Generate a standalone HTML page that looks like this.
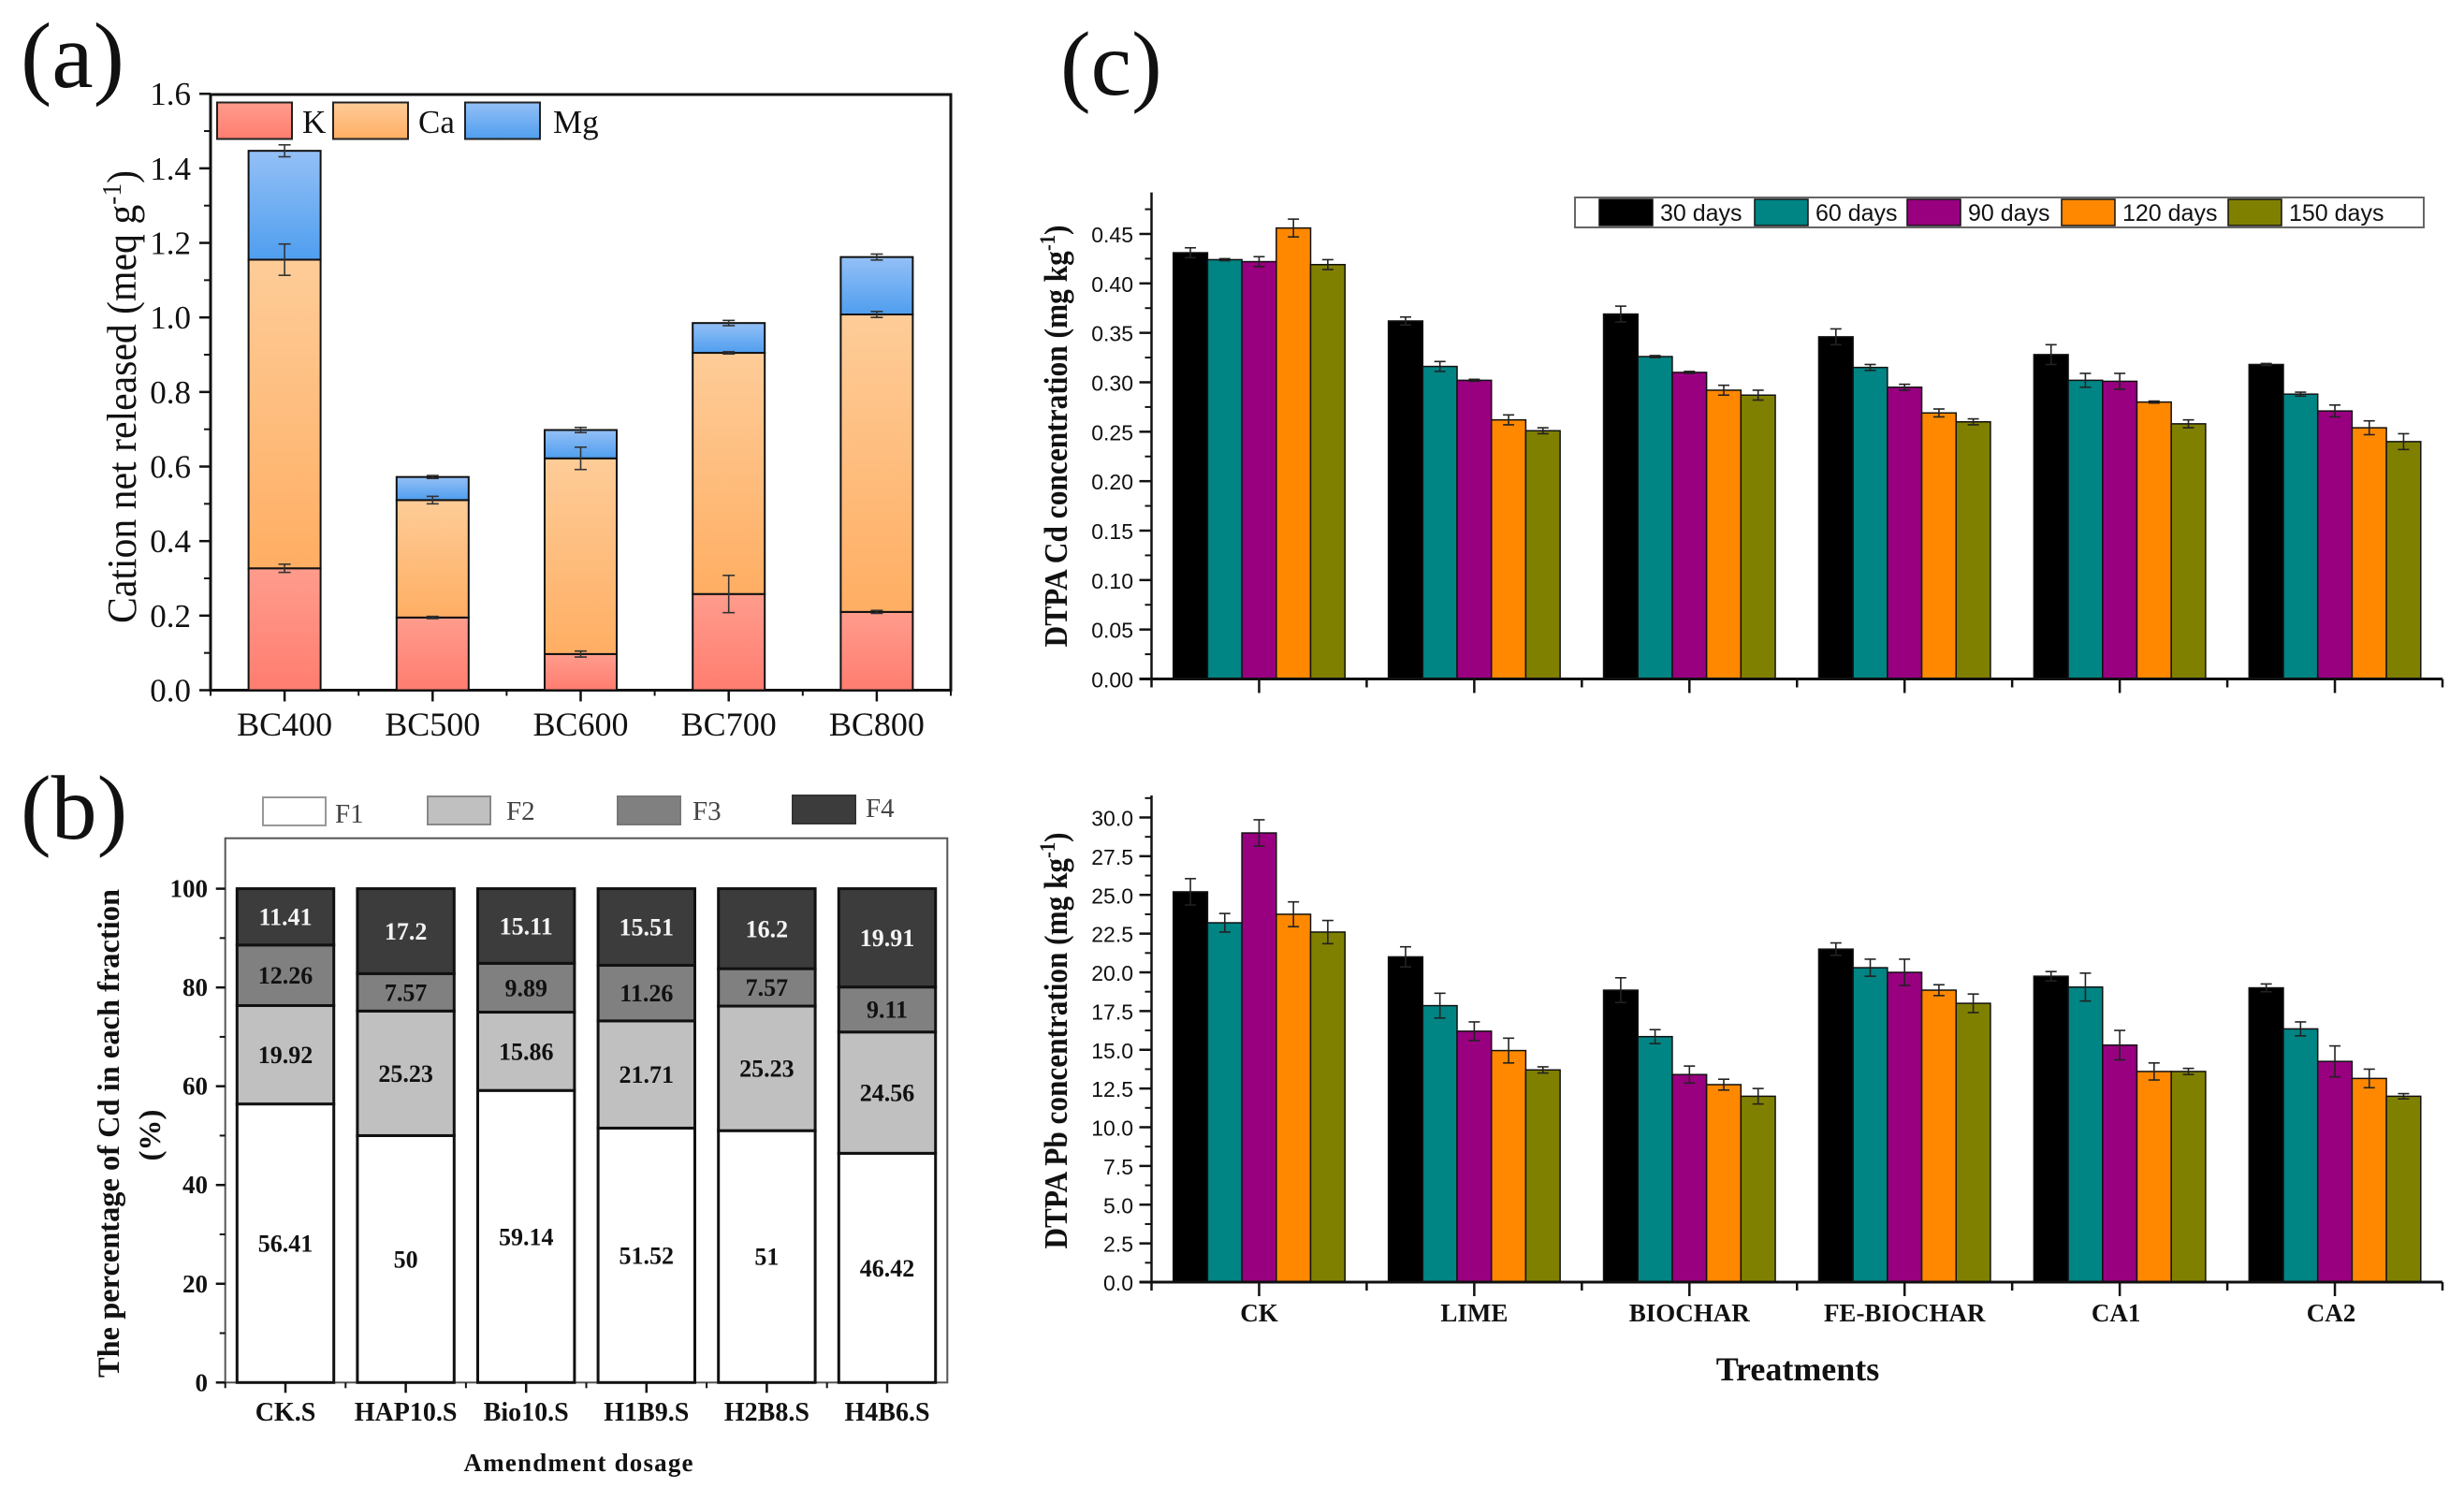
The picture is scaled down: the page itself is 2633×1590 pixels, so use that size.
<!DOCTYPE html>
<html lang="en">
<head>
<meta charset="utf-8">
<title>Composite bar charts (a), (b), (c)</title>
<style>
html,body{margin:0;padding:0;background:#fff;}
svg{display:block;}
text{font-family:"Liberation Serif",serif;fill:#111;}
.sans{font-family:"Liberation Sans",sans-serif;}
.bold{font-weight:bold;}
</style>
</head>
<body>
<svg id="figure" xmlns="http://www.w3.org/2000/svg" width="2633" height="1590" viewBox="0 0 2633 1590">
  <defs>
    <linearGradient id="gK" x1="0" y1="0" x2="0" y2="1"><stop offset="0" stop-color="#ff9c8c"/><stop offset="1" stop-color="#ff7d70"/></linearGradient>
    <linearGradient id="gCa" x1="0" y1="0" x2="0" y2="1"><stop offset="0" stop-color="#fecc98"/><stop offset="1" stop-color="#ffae63"/></linearGradient>
    <linearGradient id="gMg" x1="0" y1="0" x2="0" y2="1"><stop offset="0" stop-color="#94c0f6"/><stop offset="1" stop-color="#4f9eef"/></linearGradient>
  </defs>
  <rect width="2633" height="1590" fill="#fff"/>

  <text x="22" y="93" font-size="100">(a)</text>
  <text x="22" y="896" font-size="98">(b)</text>
  <text x="1133" y="101" font-size="98">(c)</text>

  <g id="panelA"></g>
  <g id="panelB"></g>
  <g id="panelCd"></g>
  <g id="panelPb"></g>

  <text transform="translate(145,424) rotate(-90)" text-anchor="middle" font-size="44" textLength="484" lengthAdjust="spacingAndGlyphs">Cation net released (meq g<tspan dy="-16" font-size="29">-1</tspan><tspan dy="16">)</tspan></text>
  <text transform="translate(127,1211) rotate(-90)" text-anchor="middle" font-size="33" class="bold" textLength="522" lengthAdjust="spacingAndGlyphs">The percentage of Cd in each fraction</text>
  <text transform="translate(171,1213) rotate(-90)" text-anchor="middle" font-size="33" class="bold">(%)</text>
  <text x="618" y="1572" text-anchor="middle" font-size="27" class="bold" textLength="245" lengthAdjust="spacing">Amendment dosage</text>
  <text transform="translate(1140,466) rotate(-90)" text-anchor="middle" font-size="35" class="bold" textLength="451" lengthAdjust="spacingAndGlyphs">DTPA Cd concentration (mg kg<tspan dy="-13" font-size="23">-1</tspan><tspan dy="13">)</tspan></text>
  <text transform="translate(1140,1112) rotate(-90)" text-anchor="middle" font-size="35" class="bold" textLength="445" lengthAdjust="spacingAndGlyphs">DTPA Pb concentration (mg kg<tspan dy="-13" font-size="23">-1</tspan><tspan dy="13">)</tspan></text>
  <text x="1921" y="1475" text-anchor="middle" font-size="36" class="bold">Treatments</text>
</svg>

<script>
// ---------- Panel (a) data ----------
const aCategories = ['BC400', 'BC500', 'BC600', 'BC700', 'BC800'];
const aK = [0.327, 0.195, 0.097, 0.258, 0.21];
const aCa = [0.828, 0.315, 0.525, 0.647, 0.798];
const aMg = [0.292, 0.062, 0.076, 0.08, 0.154];
const aKErr = [0.011, 0.003, 0.008, 0.05, 0.004];
const aCaErr = [0.042, 0.01, 0.03, 0.003, 0.008];
const aMgErr = [0.016, 0.004, 0.007, 0.007, 0.008];
const aTicks = ['0.0', '0.2', '0.4', '0.6', '0.8', '1.0', '1.2', '1.4', '1.6'];

// ---------- Panel (b) data ----------
const bCategories = ['CK.S', 'HAP10.S', 'Bio10.S', 'H1B9.S', 'H2B8.S', 'H4B6.S'];
const bF1 = [56.41, 50, 59.14, 51.52, 51, 46.42];
const bF2 = [19.92, 25.23, 15.86, 21.71, 25.23, 24.56];
const bF3 = [12.26, 7.57, 9.89, 11.26, 7.57, 9.11];
const bF4 = [11.41, 17.2, 15.11, 15.51, 16.2, 19.91];
const bTicks = ['0', '20', '40', '60', '80', '100'];

// ---------- Panel (c) data ----------
const cTreatments = ['CK', 'LIME', 'BIOCHAR', 'FE-BIOCHAR', 'CA1', 'CA2'];
const cSeriesNames = ['30 days', '60 days', '90 days', '120 days', '150 days'];
const cd30 = [0.431, 0.362, 0.369, 0.346, 0.328, 0.318];
const cd60 = [0.424, 0.316, 0.326, 0.315, 0.302, 0.288];
const cd90 = [0.422, 0.302, 0.31, 0.295, 0.301, 0.271];
const cd120 = [0.456, 0.262, 0.292, 0.269, 0.28, 0.254];
const cd150 = [0.419, 0.251, 0.287, 0.26, 0.258, 0.24];
const cd30Err = [0.005, 0.004, 0.008, 0.008, 0.01, 0.001];
const cd60Err = [0.001, 0.005, 0.001, 0.003, 0.007, 0.002];
const cd90Err = [0.005, 0.001, 0.001, 0.003, 0.008, 0.006];
const cd120Err = [0.009, 0.005, 0.005, 0.004, 0.001, 0.007];
const cd150Err = [0.005, 0.003, 0.005, 0.003, 0.004, 0.008];
const cdTicks = ['0.00', '0.05', '0.10', '0.15', '0.20', '0.25', '0.30', '0.35', '0.40', '0.45'];
const pb30 = [25.2, 21, 18.85, 21.5, 19.75, 19];
const pb60 = [23.2, 17.85, 15.85, 20.3, 19.05, 16.35];
const pb90 = [29, 16.2, 13.4, 20, 15.3, 14.25];
const pb120 = [23.75, 14.95, 12.75, 18.85, 13.6, 13.15];
const pb150 = [22.6, 13.7, 12, 18, 13.6, 12];
const pb30Err = [0.85, 0.65, 0.8, 0.4, 0.3, 0.25];
const pb60Err = [0.6, 0.8, 0.45, 0.55, 0.9, 0.45];
const pb90Err = [0.85, 0.6, 0.55, 0.85, 0.95, 1];
const pb120Err = [0.8, 0.8, 0.35, 0.35, 0.55, 0.6];
const pb150Err = [0.75, 0.2, 0.5, 0.6, 0.2, 0.17];
const pbTicks = ['0.0', '2.5', '5.0', '7.5', '10.0', '12.5', '15.0', '17.5', '20.0', '22.5', '25.0', '27.5', '30.0'];

const NS = 'http://www.w3.org/2000/svg';
function mk(tag, parent, attrs, content) {
  const el = document.createElementNS(NS, tag);
  for (const k in attrs) el.setAttribute(k, attrs[k]);
  if (content !== undefined) el.textContent = content;
  parent.appendChild(el);
  return el;
}
function hLine(parent, x1, x2, y, color, w) {
  return mk('line', parent, {x1: x1, x2: x2, y1: y, y2: y, stroke: color, 'stroke-width': w});
}
function vLine(parent, x, y1, y2, color, w) {
  return mk('line', parent, {x1: x, x2: x, y1: y1, y2: y2, stroke: color, 'stroke-width': w});
}
function errorBar(parent, x, yHi, yLo, capHalf, color, w) {
  const g = mk('g', parent, {});
  
  
  vLine(g, x, yHi, yLo, color, w);
  hLine(g, x - capHalf, x + capHalf, yHi, color, w);
  hLine(g, x - capHalf, x + capHalf, yLo, color, w);
}

// ---------- Panel (a) ----------
(function () {
  const root = document.getElementById('panelA');
  const left = 225, right = 1016, bottom = 737.5, top = 101;
  const barW = 77;
  const xA = i => left + (right - left) * (i + 0.5) / aCategories.length;
  const yA = v => bottom - v * 398.3;

  const frame = mk('rect', root, {x: left, y: top, width: right - left, height: bottom - top, fill: 'none', stroke: '#111', 'stroke-width': 3});
  
  

  aTicks.forEach(function (t) {
    const y = yA(parseFloat(t));
    const tick = hLine(root, left - 12, left, y, '#111', 2.5);
    
    
    const label = mk('text', root, {x: 204, y: y + 12, 'text-anchor': 'end', 'font-size': 35}, t);
    
    
    if (parseFloat(t) < 1.6) {
      const minor = hLine(root, left - 7, left, yA(parseFloat(t) + 0.1), '#111', 2);
      
      
    }
  });

  const firstEdge = vLine(root, left, bottom, bottom + 6, '#111', 2);
  
  

  aCategories.forEach(function (cat, i) {
    const cx = xA(i);
    const tick = vLine(root, cx, bottom, bottom + 12, '#111', 2.5);
    
    
    const edge = vLine(root, left + (right - left) * (i + 1) / aCategories.length, bottom, bottom + 6, '#111', 2);
    
    
    const label = mk('text', root, {x: cx, y: 786, 'text-anchor': 'middle', 'font-size': 36}, cat);
    
    

    const k = aK[i], ca = aCa[i], mg = aMg[i];
    const kBar = mk('rect', root, {x: cx - barW / 2, y: yA(k), width: barW, height: yA(0) - yA(k), fill: 'url(#gK)', stroke: '#111', 'stroke-width': 2});
    
    
    const caBar = mk('rect', root, {x: cx - barW / 2, y: yA(k + ca), width: barW, height: yA(k) - yA(k + ca), fill: 'url(#gCa)', stroke: '#111', 'stroke-width': 2});
    
    
    const mgBar = mk('rect', root, {x: cx - barW / 2, y: yA(k + ca + mg), width: barW, height: yA(k + ca) - yA(k + ca + mg), fill: 'url(#gMg)', stroke: '#111', 'stroke-width': 2});
    
    

    errorBar(root, cx, yA(k + aKErr[i]), yA(k - aKErr[i]), 6.5, '#333', 1.6);
    errorBar(root, cx, yA(k + ca + aCaErr[i]), yA(k + ca - aCaErr[i]), 6.5, '#333', 1.6);
    errorBar(root, cx, yA(k + ca + mg + aMgErr[i]), yA(k + ca + mg - aMgErr[i]), 6.5, '#333', 1.6);
  });

  const legendNames = ['K', 'Ca', 'Mg'];
  const legendFills = ['url(#gK)', 'url(#gCa)', 'url(#gMg)'];
  const legendLeft = [232, 356, 497];
  const legendText = [323, 447, 591];
  legendNames.forEach(function (name, i) {
    const box = mk('rect', root, {x: legendLeft[i], y: 109.5, width: 80, height: 39, fill: legendFills[i], stroke: '#222', 'stroke-width': 2});
    
    
    const label = mk('text', root, {x: legendText[i], y: 142, 'font-size': 35}, name);
    
    
  });
})();

// ---------- Panel (b) ----------
(function () {
  const root = document.getElementById('panelB');
  const left = 240.7, right = 1012.3, bottom = 1477.3, top = 895.7;
  const barW = 103.4;
  const band = (right - left) / bCategories.length;
  const xB = i => left + band * (i + 0.5);
  const yB = v => bottom - v * 5.277;

  const frame = mk('rect', root, {x: left, y: top, width: right - left, height: bottom - top, fill: 'none', stroke: '#555', 'stroke-width': 2});
  
  

  bTicks.forEach(function (t) {
    const v = parseFloat(t);
    const tick = hLine(root, left - 10, left, yB(v), '#111', 2.5);
    
    
    const label = mk('text', root, {x: 222, y: yB(v) + 9, 'text-anchor': 'end', 'font-size': 27, class: 'bold'}, t);
    
    
    if (v < 100) {
      const minor = hLine(root, left - 6, left, yB(v + 10), '#111', 2);
      
      
    }
  });

  const fills = ['#ffffff', '#c0c0c0', '#808080', '#3c3c3c'];
  const textColors = ['#111', '#111', '#111', '#f4f4f4'];
  const series = [bF1, bF2, bF3, bF4];
  bCategories.forEach(function (cat, i) {
    const cx = xB(i);
    const tick = vLine(root, cx, bottom, bottom + 11, '#111', 2.5);
    
    
    const edge = vLine(root, left + band * i, bottom, bottom + 6, '#111', 2);
    
    
    const label = mk('text', root, {x: cx, y: 1518, 'text-anchor': 'middle', 'font-size': 28, class: 'bold'}, cat);
    
    

    let base = 0;
    series.forEach(function (s, j) {
      const v = s[i];
      const seg = mk('rect', root, {x: cx - barW / 2, y: yB(base + v), width: barW, height: yB(base) - yB(base + v), fill: fills[j], stroke: '#111', 'stroke-width': 3});
      
      
      const val = mk('text', root, {x: cx, y: yB(base + v / 2) + 9, 'text-anchor': 'middle', 'font-size': 26, class: 'bold', style: 'fill:' + textColors[j]}, String(v));
      
      
      base += v;
    });
  });

  const legendNames = ['F1', 'F2', 'F3', 'F4'];
  const legendFills = ['#ffffff', '#c0c0c0', '#808080', '#3c3c3c'];
  const legendStrokes = ['#999', '#888', '#777', '#333'];
  const legendLeft = [281, 457, 660, 847];
  const legendTop = [852, 851, 851, 850];
  const legendTextX = [358, 541, 740, 925];
  const legendBase = [879, 876, 876, 873];
  legendNames.forEach(function (name, i) {
    const box = mk('rect', root, {x: legendLeft[i], y: legendTop[i], width: 67, height: 30, fill: legendFills[i], stroke: legendStrokes[i], 'stroke-width': 2});
    
    
    const label = mk('text', root, {x: legendTextX[i], y: legendBase[i], 'font-size': 29, style: 'fill:#444'}, name);
    
    
  });
})();

// ---------- Panel (c) ----------
const cColors = ['#000000', '#008484', '#980080', '#ff8800', '#808000'];
function drawGroupedChart(root, ticks, minorStep, series, errors, axis, showCats) {
  const left = 1230.5, right = 2610;
  const band = (right - left) / cTreatments.length;
  const barW = 36.7;
  const xC = g => left + band * (g + 0.5);
  const y = v => axis.y0 - v * axis.scale;

  const yAxis = vLine(root, left, axis.top, axis.y0, '#111', 2.5);
  
  

  ticks.forEach(function (t) {
    const v = parseFloat(t);
    const tick = hLine(root, left - 13, left, y(v), '#111', 2.5);
    
    
    const label = mk('text', root, {x: 1211, y: y(v) + 9, 'text-anchor': 'end', 'font-size': 23, class: 'sans'}, t);
    
    
    const minorV = v + minorStep;
    if (y(minorV) > axis.top) {
      const minor = hLine(root, left - 7, left, y(minorV), '#111', 2);
      
      
    }
  });

  cTreatments.forEach(function (name, g) {
    const cx = xC(g);
    const major = vLine(root, cx, axis.y0, axis.y0 + 15, '#111', 2.5);
    
    
    const minor = vLine(root, left + band * g, axis.y0, axis.y0 + 9, '#111', 2.5);
    
    
    if (showCats) {
      const label = mk('text', root, {x: cx - (g > 3 ? 4 : 0), y: 1412, 'text-anchor': 'middle', 'font-size': 27, class: 'bold'}, name);
      
      
    }
    series.forEach(function (s, j) {
      const bx = cx - barW * 2.5 + barW * j;
      const bar = mk('rect', root, {x: bx, y: y(s[g]), width: barW, height: axis.y0 - y(s[g]), fill: cColors[j], stroke: '#111', 'stroke-width': 1.5});
      
      
      errorBar(root, bx + barW / 2, y(s[g] + errors[j][g]), y(s[g] - errors[j][g]), 6, '#222', 1.6);
    });
  });

  const last = vLine(root, right, axis.y0, axis.y0 + 9, '#111', 2.5);
  
  
  const xAxis = hLine(root, left - 13, right, axis.y0, '#111', 3);
  
  
}

drawGroupedChart(document.getElementById('panelCd'), cdTicks, 0.025,
  [cd30, cd60, cd90, cd120, cd150],
  [cd30Err, cd60Err, cd90Err, cd120Err, cd150Err],
  {y0: 725.5, scale: 1056.7, top: 205.6}, false);

drawGroupedChart(document.getElementById('panelPb'), pbTicks, 1.25,
  [pb30, pb60, pb90, pb120, pb150],
  [pb30Err, pb60Err, pb90Err, pb120Err, pb150Err],
  {y0: 1370, scale: 16.55, top: 850}, true);

(function () {
  const root = document.getElementById('panelCd');
  const frame = mk('rect', root, {x: 1683, y: 211, width: 907, height: 32, fill: '#fff', stroke: '#666', 'stroke-width': 2});
  
  
  const legendLeft = [1709, 1875, 2038, 2203, 2381];
  cSeriesNames.forEach(function (name, i) {
    const box = mk('rect', root, {x: legendLeft[i], y: 213, width: 57, height: 28, fill: cColors[i], stroke: '#111', 'stroke-width': 1.5});
    
    
    const label = mk('text', root, {x: legendLeft[i] + 65, y: 236, 'font-size': 25, class: 'sans'}, name);
    
    
  });
})();
</script>
</body>
</html>
